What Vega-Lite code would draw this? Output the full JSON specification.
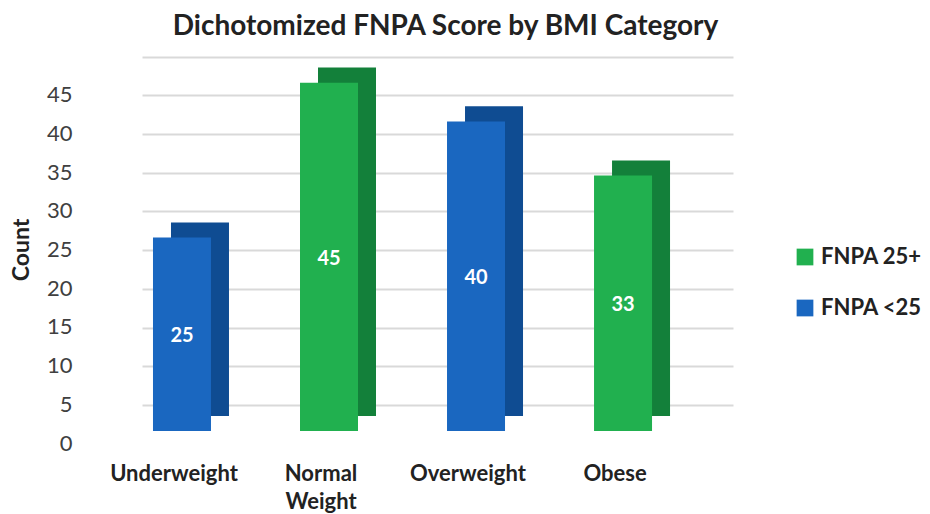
{
  "$schema": "https://vega.github.io/schema/vega-lite/v6.json",
  "autosize": "none",
  "width": 591,
  "height": 387,
  "padding": {"left": 142, "top": 56, "right": 197, "bottom": 71},
  "background": "white",
  "config": {"font": "Lato", "view": {"stroke": null}},
  "title": {"text": "Dichotomized FNPA Score by BMI Category", "fontSize": 28, "fontWeight": "bold", "color": "#222222", "anchor": "middle", "frame": "group", "dx": 8, "offset": 15},
  "data": {"values": [
    {"category": "Underweight", "count": 25, "group": "FNPA <25"},
    {"category": "Normal Weight", "count": 45, "group": "FNPA 25+"},
    {"category": "Overweight", "count": 40, "group": "FNPA <25"},
    {"category": "Obese", "count": 33, "group": "FNPA 25+"}
  ]},
  "encoding": {
    "x": {"field": "category", "type": "nominal", "sort": null,
      "scale": {"paddingInner": 0.456, "paddingOuter": 0.238, "align": 0},
      "axis": {"title": null, "labelAngle": 0, "domain": false, "ticks": false, "labelPadding": 20, "labelOffset": -8, "labelFontSize": 22, "labelFontWeight": "bold", "labelColor": "#222222", "labelLineHeight": 28, "labelBaseline": "top",
        "labelExpr": "datum.value == 'Normal Weight' ? ['Normal', 'Weight'] : datum.value"}}
  },
  "layer": [
    {
      "mark": {"type": "bar", "width": 58, "xOffset": 18, "yOffset": 11},
      "encoding": {
        "y": {"field": "count", "type": "quantitative",
          "scale": {"domain": [-4.92, 45.08], "nice": false, "zero": false},
          "axis": {"orient": "right", "title": null, "labels": false, "ticks": false, "domain": false,
            "values": [0, 5, 10, 15, 20, 25, 30, 35, 40, 45],
            "grid": true, "gridColor": "#d9d9d9", "gridWidth": 2}},
        "color": {"condition": {"test": "datum.group == 'FNPA 25+'", "value": "#13803a"}, "value": "#0f4c92"}
      }
    },
    {
      "mark": {"type": "bar", "width": 58, "yOffset": -12},
      "encoding": {
        "y": {"field": "count", "type": "quantitative",
          "scale": {"domain": [0, 50], "nice": false},
          "axis": {"title": "Count", "titleFontSize": 23, "titleFontWeight": "bold", "titleColor": "#222222", "titlePadding": 13,
            "values": [0, 5, 10, 15, 20, 25, 30, 35, 40, 45],
            "labelFontSize": 22, "labelColor": "#404040", "labelPadding": 70, "ticks": false, "domain": false, "grid": false}},
        "color": {"field": "group", "type": "nominal",
          "scale": {"domain": ["FNPA 25+", "FNPA <25"], "range": ["#21b04f", "#1a67c0"]},
          "legend": {"title": null, "orient": "none", "legendX": 652, "legendY": 190, "symbolType": "square", "symbolSize": 280, "symbolStrokeWidth": 0, "labelFontSize": 22, "labelFontWeight": "bold", "labelColor": "#222222", "rowPadding": 29, "labelOffset": 5}}
      }
    },
    {
      "mark": {"type": "text", "color": "white", "fontSize": 20, "fontWeight": "bold", "yOffset": -10, "baseline": "middle"},
      "encoding": {
        "y": {"field": "count", "type": "quantitative", "scale": {"domain": [0, 100], "nice": false}, "axis": null},
        "text": {"field": "count", "type": "quantitative"}
      }
    }
  ],
  "resolve": {"scale": {"y": "independent"}, "axis": {"y": "independent"}}
}
